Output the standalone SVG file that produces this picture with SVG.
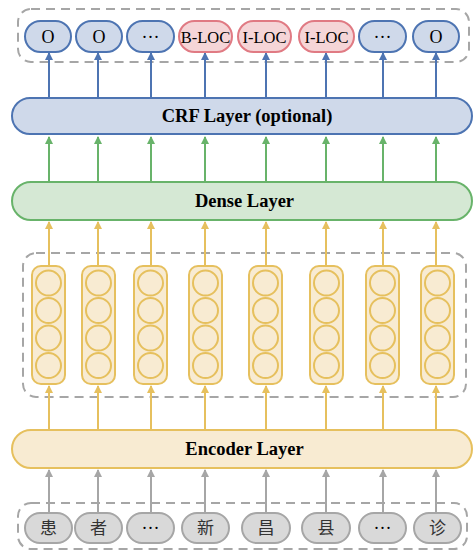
<svg xmlns="http://www.w3.org/2000/svg" width="474" height="551" viewBox="0 0 474 551">
<style>
.dash{fill:none;stroke:#a6a6a6;stroke-width:2;stroke-dasharray:9,6}
.blue{fill:#cfd9ea;stroke:#4d74b2;stroke-width:2}
.pink{fill:#f5d5d7;stroke:#e07a83;stroke-width:2}
.green{fill:#d5e8d4;stroke:#68b36a;stroke-width:2}
.yel{fill:#f8ebd2;stroke:#e6c05e;stroke-width:2}
.gray{fill:#d9d9d9;stroke:#a6a6a6;stroke-width:2}
.cell{fill:#f8ebd2;stroke:#e6c05e;stroke-width:2}
.lbl{font-family:"Liberation Serif",serif;font-size:18px;fill:#000;text-anchor:middle;dominant-baseline:central}
.tag{font-family:"Liberation Serif",serif;font-size:16.5px;fill:#000;text-anchor:middle;dominant-baseline:central}
.lay{font-family:"Liberation Serif",serif;font-size:18.5px;font-weight:bold;fill:#000;text-anchor:middle;dominant-baseline:central}
.cjk{font-family:"Liberation Serif","Noto Sans CJK SC",serif;font-size:17px;fill:#333;text-anchor:middle;dominant-baseline:central}
.ab{stroke:#4d74b2;stroke-width:2;fill:none}
.ag{stroke:#68b36a;stroke-width:2;fill:none}
.ay{stroke:#e6c05e;stroke-width:2;fill:none}
.ar{stroke:#a6a6a6;stroke-width:2;fill:none}
</style>
<defs>
<marker id="mb" markerWidth="8" markerHeight="8" refX="7" refY="4" orient="auto" markerUnits="userSpaceOnUse"><path d="M0,0 L8,4 L0,8 Z" fill="#4d74b2"/></marker>
<marker id="mg" markerWidth="8" markerHeight="8" refX="7" refY="4" orient="auto" markerUnits="userSpaceOnUse"><path d="M0,0 L8,4 L0,8 Z" fill="#68b36a"/></marker>
<marker id="my" markerWidth="8" markerHeight="8" refX="7" refY="4" orient="auto" markerUnits="userSpaceOnUse"><path d="M0,0 L8,4 L0,8 Z" fill="#e6c05e"/></marker>
<marker id="mr" markerWidth="8" markerHeight="8" refX="7" refY="4" orient="auto" markerUnits="userSpaceOnUse"><path d="M0,0 L8,4 L0,8 Z" fill="#a6a6a6"/></marker>
</defs>

<g id="groups">
<rect class="dash" x="18" y="9" width="451" height="53" rx="13"/>
<rect class="dash" x="23" y="253" width="443" height="144" rx="13"/>
<rect class="dash" x="18" y="503" width="449" height="46" rx="13"/>
</g>

<g id="connectors">
<g class="ab" marker-end="url(#mb)">
<line x1="49" y1="98" x2="49" y2="53"/><line x1="98" y1="98" x2="98" y2="53"/><line x1="151" y1="98" x2="151" y2="53"/><line x1="205" y1="98" x2="205" y2="53"/><line x1="266" y1="98" x2="266" y2="53"/><line x1="326" y1="98" x2="326" y2="53"/><line x1="383" y1="98" x2="383" y2="53"/><line x1="436" y1="98" x2="436" y2="53"/>
</g>
<g class="ag" marker-end="url(#mg)">
<line x1="49" y1="182" x2="49" y2="137"/><line x1="98" y1="182" x2="98" y2="137"/><line x1="151" y1="182" x2="151" y2="137"/><line x1="205" y1="182" x2="205" y2="137"/><line x1="266" y1="182" x2="266" y2="137"/><line x1="326" y1="182" x2="326" y2="137"/><line x1="383" y1="182" x2="383" y2="137"/><line x1="436" y1="182" x2="436" y2="137"/>
</g>
<g class="ay" marker-end="url(#my)">
<line x1="49" y1="266" x2="49" y2="222"/><line x1="98" y1="266" x2="98" y2="222"/><line x1="151" y1="266" x2="151" y2="222"/><line x1="205" y1="266" x2="205" y2="222"/><line x1="266" y1="266" x2="266" y2="222"/><line x1="326" y1="266" x2="326" y2="222"/><line x1="383" y1="266" x2="383" y2="222"/><line x1="436" y1="266" x2="436" y2="222"/>
<line x1="49" y1="430" x2="49" y2="386"/><line x1="98" y1="430" x2="98" y2="386"/><line x1="151" y1="430" x2="151" y2="386"/><line x1="205" y1="430" x2="205" y2="386"/><line x1="266" y1="430" x2="266" y2="386"/><line x1="326" y1="430" x2="326" y2="386"/><line x1="383" y1="430" x2="383" y2="386"/><line x1="436" y1="430" x2="436" y2="386"/>
</g>
<g class="ar" marker-end="url(#mr)">
<line x1="49" y1="513" x2="49" y2="470"/><line x1="98" y1="513" x2="98" y2="470"/><line x1="151" y1="513" x2="151" y2="470"/><line x1="205" y1="513" x2="205" y2="470"/><line x1="266" y1="513" x2="266" y2="470"/><line x1="326" y1="513" x2="326" y2="470"/><line x1="383" y1="513" x2="383" y2="470"/><line x1="436" y1="513" x2="436" y2="470"/>
</g>
</g>

<g id="out1"><rect class="blue" x="25" y="21" width="46" height="31" rx="15.5"/><text class="lbl" x="48" y="37">O</text></g>
<g id="out2"><rect class="blue" x="76" y="21" width="46" height="31" rx="15.5"/><text class="lbl" x="99" y="37">O</text></g>
<g id="out3"><rect class="blue" x="127" y="21" width="47" height="31" rx="15.5"/><text class="lbl" x="150.5" y="37">···</text></g>
<g id="out4"><rect class="pink" x="179" y="21" width="53" height="31" rx="15.5"/><text class="tag" x="205.5" y="37">B-LOC</text></g>
<g id="out5"><rect class="pink" x="238" y="21" width="53" height="31" rx="15.5"/><text class="tag" x="264.5" y="37">I-LOC</text></g>
<g id="out6"><rect class="pink" x="299" y="21" width="55" height="31" rx="15.5"/><text class="tag" x="326.5" y="37">I-LOC</text></g>
<g id="out7"><rect class="blue" x="359" y="21" width="47" height="31" rx="15.5"/><text class="lbl" x="382.5" y="37">···</text></g>
<g id="out8"><rect class="blue" x="413" y="21" width="46" height="31" rx="15.5"/><text class="lbl" x="436" y="37">O</text></g>

<g id="crf"><rect class="blue" x="12" y="98" width="460" height="36" rx="18"/><text class="lay" x="247" y="116">CRF Layer (optional)</text></g>
<g id="dense"><rect class="green" x="12" y="182" width="460" height="38" rx="19"/><text class="lay" x="244.5" y="201">Dense Layer</text></g>

<g id="lstm1"><rect class="cell" x="32" y="266" width="33" height="118" rx="9"/><circle class="cell" cx="48.5" cy="283" r="12.5"/><circle class="cell" cx="48.5" cy="310.5" r="12.5"/><circle class="cell" cx="48.5" cy="338" r="12.5"/><circle class="cell" cx="48.5" cy="365.5" r="12.5"/></g>
<g id="lstm2"><rect class="cell" x="82" y="266" width="33" height="118" rx="9"/><circle class="cell" cx="98.5" cy="283" r="12.5"/><circle class="cell" cx="98.5" cy="310.5" r="12.5"/><circle class="cell" cx="98.5" cy="338" r="12.5"/><circle class="cell" cx="98.5" cy="365.5" r="12.5"/></g>
<g id="lstm3"><rect class="cell" x="134" y="266" width="33" height="118" rx="9"/><circle class="cell" cx="150.5" cy="283" r="12.5"/><circle class="cell" cx="150.5" cy="310.5" r="12.5"/><circle class="cell" cx="150.5" cy="338" r="12.5"/><circle class="cell" cx="150.5" cy="365.5" r="12.5"/></g>
<g id="lstm4"><rect class="cell" x="189" y="266" width="33" height="118" rx="9"/><circle class="cell" cx="205.5" cy="283" r="12.5"/><circle class="cell" cx="205.5" cy="310.5" r="12.5"/><circle class="cell" cx="205.5" cy="338" r="12.5"/><circle class="cell" cx="205.5" cy="365.5" r="12.5"/></g>
<g id="lstm5"><rect class="cell" x="249" y="266" width="33" height="118" rx="9"/><circle class="cell" cx="265.5" cy="283" r="12.5"/><circle class="cell" cx="265.5" cy="310.5" r="12.5"/><circle class="cell" cx="265.5" cy="338" r="12.5"/><circle class="cell" cx="265.5" cy="365.5" r="12.5"/></g>
<g id="lstm6"><rect class="cell" x="310" y="266" width="33" height="118" rx="9"/><circle class="cell" cx="326.5" cy="283" r="12.5"/><circle class="cell" cx="326.5" cy="310.5" r="12.5"/><circle class="cell" cx="326.5" cy="338" r="12.5"/><circle class="cell" cx="326.5" cy="365.5" r="12.5"/></g>
<g id="lstm7"><rect class="cell" x="366" y="266" width="33" height="118" rx="9"/><circle class="cell" cx="382.5" cy="283" r="12.5"/><circle class="cell" cx="382.5" cy="310.5" r="12.5"/><circle class="cell" cx="382.5" cy="338" r="12.5"/><circle class="cell" cx="382.5" cy="365.5" r="12.5"/></g>
<g id="lstm8"><rect class="cell" x="421" y="266" width="33" height="118" rx="9"/><circle class="cell" cx="437.5" cy="283" r="12.5"/><circle class="cell" cx="437.5" cy="310.5" r="12.5"/><circle class="cell" cx="437.5" cy="338" r="12.5"/><circle class="cell" cx="437.5" cy="365.5" r="12.5"/></g>

<g id="encoder"><rect class="yel" x="12" y="430" width="460" height="38" rx="19"/><text class="lay" x="244.5" y="449">Encoder Layer</text></g>

<g id="tok1"><rect class="gray" x="25" y="513" width="47" height="30" rx="15"/><text class="cjk" x="48.5" y="528">患</text></g>
<g id="tok2"><rect class="gray" x="75" y="513" width="47" height="30" rx="15"/><text class="cjk" x="98.5" y="528">者</text></g>
<g id="tok3"><rect class="gray" x="127" y="513" width="47" height="30" rx="15"/><text class="lbl" x="150.5" y="528">···</text></g>
<g id="tok4"><rect class="gray" x="182" y="513" width="47" height="30" rx="15"/><text class="cjk" x="205.5" y="528">新</text></g>
<g id="tok5"><rect class="gray" x="242" y="513" width="48" height="30" rx="15"/><text class="cjk" x="266" y="528">昌</text></g>
<g id="tok6"><rect class="gray" x="302" y="513" width="48" height="30" rx="15"/><text class="cjk" x="326" y="528">县</text></g>
<g id="tok7"><rect class="gray" x="359" y="513" width="47" height="30" rx="15"/><text class="lbl" x="382.5" y="528">···</text></g>
<g id="tok8"><rect class="gray" x="414" y="513" width="47" height="30" rx="15"/><text class="cjk" x="437.5" y="528">诊</text></g>
</svg>
